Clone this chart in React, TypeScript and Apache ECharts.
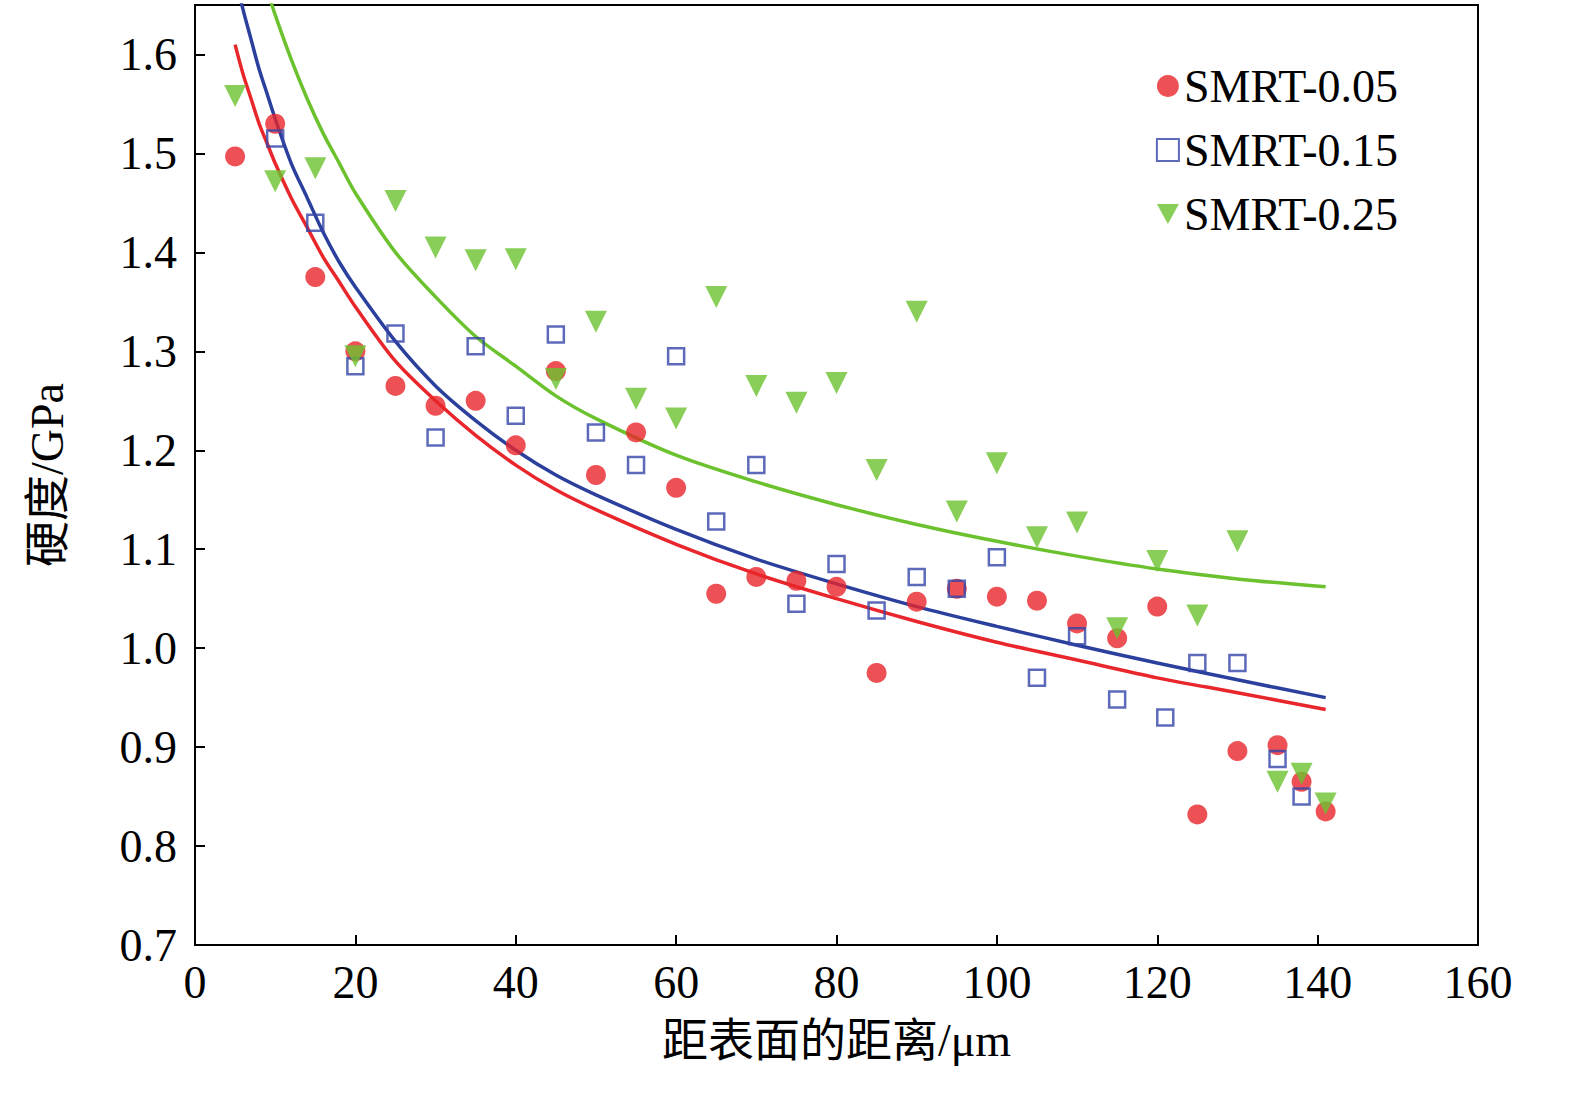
import React, { useEffect, useRef } from "react";
import * as echarts from "echarts";

const xRed = [5, 10, 15, 20, 25, 30, 35, 40, 45, 50, 55, 60, 65, 70, 75, 80, 85, 90, 95, 100, 105, 110, 115, 120, 125, 130, 135, 138, 141];
const yRed = [1.497, 1.53, 1.375, 1.3, 1.265, 1.245, 1.25, 1.205, 1.28, 1.175, 1.218, 1.162, 1.055, 1.072, 1.068, 1.062, 0.975, 1.047, 1.06, 1.052, 1.048, 1.025, 1.01, 1.042, 0.832, 0.896, 0.902, 0.865, 0.835];

const xBlue = [10, 15, 20, 25, 30, 35, 40, 45, 50, 55, 60, 65, 70, 75, 80, 85, 90, 95, 100, 105, 110, 115, 121, 125, 130, 135, 138];
const yBlue = [1.515, 1.43, 1.285, 1.318, 1.213, 1.305, 1.235, 1.317, 1.218, 1.185, 1.295, 1.128, 1.185, 1.045, 1.085, 1.038, 1.072, 1.06, 1.092, 0.97, 1.012, 0.948, 0.93, 0.985, 0.985, 0.888, 0.85];

const xGreen = [5, 10, 15, 20, 25, 30, 35, 40, 45, 50, 55, 60, 65, 70, 75, 80, 85, 90, 95, 100, 105, 110, 115, 120, 125, 130, 135, 138, 141];
const yGreen = [1.558, 1.472, 1.485, 1.295, 1.452, 1.405, 1.392, 1.393, 1.272, 1.33, 1.252, 1.232, 1.355, 1.265, 1.248, 1.268, 1.18, 1.34, 1.138, 1.187, 1.112, 1.127, 1.02, 1.088, 1.033, 1.108, 0.865, 0.873, 0.843];

// fitted curves
const fitX = [5, 6, 7, 8, 9, 10, 12, 14, 16, 18, 20, 25, 30, 35, 40, 45, 50, 60, 70, 80, 90, 100, 110, 120, 130, 141];
const fitRed = [1.61, 1.58, 1.555, 1.53, 1.51, 1.49, 1.455, 1.425, 1.395, 1.37, 1.345, 1.29, 1.25, 1.215, 1.185, 1.16, 1.14, 1.105, 1.075, 1.05, 1.027, 1.006, 0.988, 0.97, 0.955, 0.938];
const fitBlue = [1.68, 1.645, 1.615, 1.585, 1.56, 1.535, 1.49, 1.455, 1.42, 1.39, 1.365, 1.31, 1.265, 1.23, 1.2, 1.175, 1.155, 1.12, 1.09, 1.065, 1.042, 1.022, 1.003, 0.985, 0.968, 0.95];
const fitGreen = [1.78, 1.75, 1.72, 1.69, 1.665, 1.64, 1.595, 1.555, 1.52, 1.49, 1.46, 1.4, 1.355, 1.315, 1.285, 1.255, 1.232, 1.195, 1.168, 1.145, 1.125, 1.108, 1.093, 1.08, 1.07, 1.062];

const zip = (xs: number[], ys: number[]) => xs.map((x, i) => [x, ys[i]]);

const serif = "'Liberation Serif', 'Times New Roman', 'Noto Sans CJK SC', serif";
const downTri = "path://M0,0 L10,0 L5,9 Z";

const App: React.FC = () => {
  const chartRef = useRef<HTMLDivElement>(null);

  useEffect(() => {
    document.body.style.margin = "0";
    if (!chartRef.current) return;
    const chart = echarts.init(chartRef.current, null, { renderer: "svg" });
    const scatter = (name: string, symbol: string, size: number, color: string, data: number[][], hollow = false) => ({
      name,
      type: "scatter",
      symbol,
      symbolSize: size,
      data,
      itemStyle: hollow
        ? { color: "transparent", borderColor: color, borderWidth: 2.5 }
        : { color },
      z: 3,
    });
    const fit = (color: string, data: number[][]) => ({
      type: "line",
      smooth: 0.3,
      showSymbol: false,
      data,
      lineStyle: { color, width: 3.5 },
      z: 2,
      silent: true,
    });
    chart.setOption({
      animation: false,
      grid: { left: 195, right: 97, top: 5, bottom: 151, show: true, borderColor: "#000", borderWidth: 2 },
      legend: {
        right: 172,
        top: 58,
        orient: "vertical",
        itemGap: 18,
        itemWidth: 22,
        itemHeight: 22,
        textStyle: { fontFamily: serif, fontSize: 46, color: "#000" },
        data: [
          { name: "SMRT-0.05" },
          { name: "SMRT-0.15" },
          { name: "SMRT-0.25", icon: downTri },
        ],
      },
      xAxis: {
        type: "value",
        min: 0,
        max: 160,
        interval: 20,
        name: "距表面的距离/μm",
        nameLocation: "middle",
        nameGap: 72,
        nameTextStyle: { fontFamily: serif, fontSize: 46, color: "#000" },
        axisLine: { lineStyle: { color: "#000", width: 2 } },
        axisTick: { inside: true, length: 10, lineStyle: { color: "#000", width: 2 } },
        axisLabel: { fontFamily: serif, fontSize: 46, color: "#000", margin: 14 },
        splitLine: { show: false },
      },
      yAxis: {
        type: "value",
        min: 0.7,
        max: 1.65,
        interval: 0.1,
        name: "硬度/GPa",
        nameLocation: "middle",
        nameGap: 125,
        nameTextStyle: { fontFamily: serif, fontSize: 46, color: "#000" },
        axisLine: { lineStyle: { color: "#000", width: 2 } },
        axisTick: { inside: true, length: 10, lineStyle: { color: "#000", width: 2 } },
        axisLabel: {
          fontFamily: serif,
          fontSize: 46,
          color: "#000",
          margin: 18,
          showMaxLabel: false,
          formatter: (v: number) => v.toFixed(1),
        },
        splitLine: { show: false },
      },
      series: [
        fit("#e8262b", zip(fitX, fitRed)),
        fit("#2b3f9c", zip(fitX, fitBlue)),
        fit("#6cc22e", zip(fitX, fitGreen)),
        scatter("SMRT-0.05", "circle", 20, "#e8262b", zip(xRed, yRed)),
        scatter("SMRT-0.15", "rect", 16, "#3445a8", zip(xBlue, yBlue), true),
        scatter("SMRT-0.25", downTri, 22, "#6cc22e", zip(xGreen, yGreen)),
      ],
    });
    return () => chart.dispose();
  }, []);

  return <div ref={chartRef} style={{ width: 1575, height: 1096 }} />;
};

export default App;
